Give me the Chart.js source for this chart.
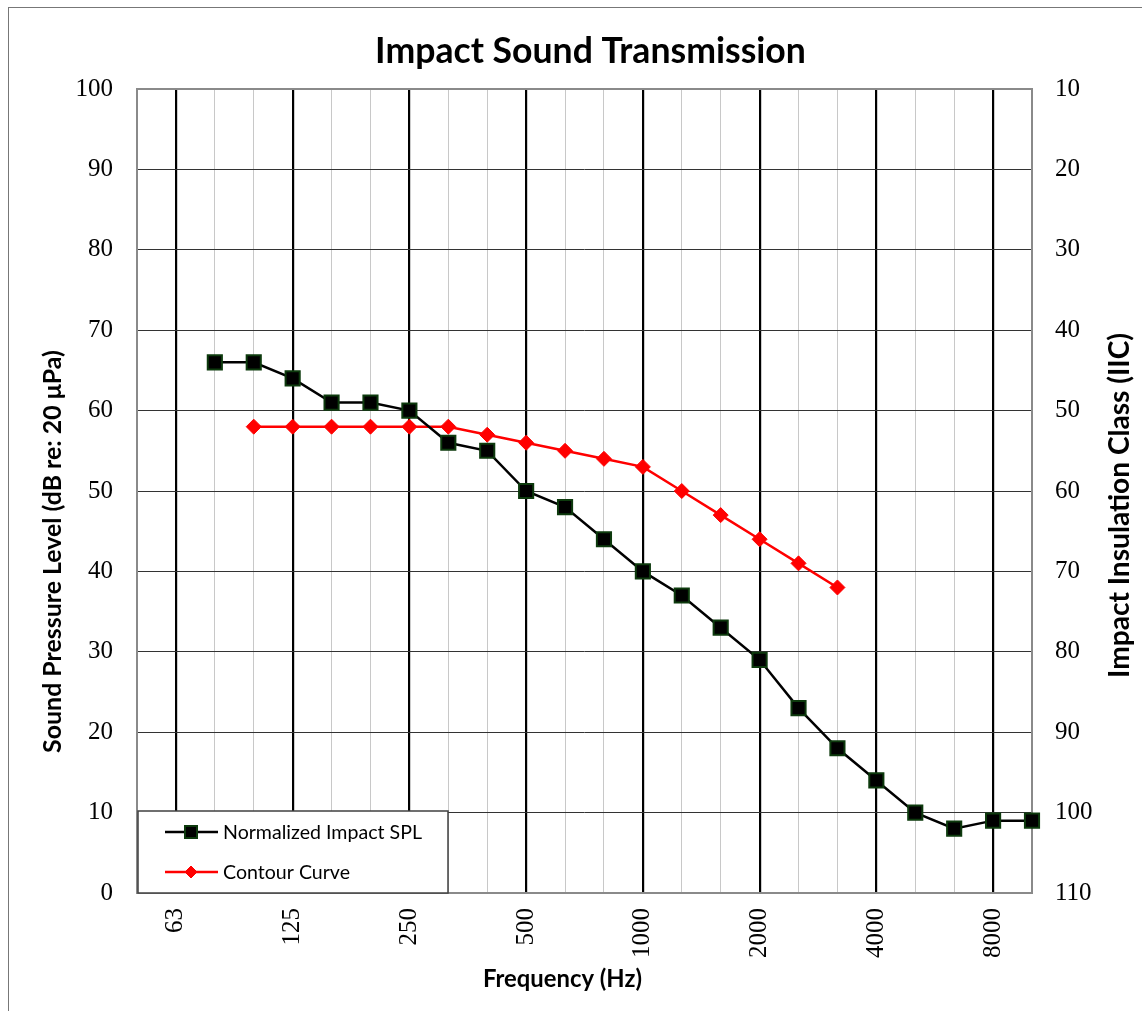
<!DOCTYPE html>
<html><head><meta charset="utf-8">
<script src="https://cdn.jsdelivr.net/npm/chart.js@4.4.1/dist/chart.umd.min.js"></script>
<style>
html,body{margin:0;padding:0;background:#fff;}
#wrap{position:relative;width:1142px;height:1011px;overflow:hidden;}
#frame{position:absolute;left:8px;top:7px;width:1200px;height:1100px;border-left:1.5px solid #777;border-top:1.5px solid #777;}
canvas{position:absolute;left:0;top:0;}
</style></head>
<body><div id="wrap"><div id="frame"></div><canvas id="c" width="1142" height="1011"></canvas></div>
<script>
const frequencies = ['50','63','80','100','125','160','200','250','315','400','500','630','800','1000','1250','1600','2000','2500','3150','4000','5000','6300','8000','10000'];
const majorLabels = ['63','125','250','500','1000','2000','4000','8000'];
const normalizedSPL = [null,null,66,66,64,61,61,60,56,55,50,48,44,40,37,33,29,23,18,14,10,8,9,9];
const contourCurve = [null,null,null,58,58,58,58,58,58,57,56,55,54,53,50,47,44,41,38,null,null,null,null,null];
const splTicks = [0,10,20,30,40,50,60,70,80,90,100];
const iicTicks = [10,20,30,40,50,60,70,80,90,100,110];
const chartTitle = 'Impact Sound Transmission';
const xTitle = 'Frequency (Hz)';
const yTitle = 'Sound Pressure Level (dB re: 20 μPa)';
const y2Title = 'Impact Insulation Class (IIC)';

function fitFont(ctx, text, weight, family, target) {
  ctx.font = weight + ' 20px ' + family;
  const w = ctx.measureText(text).width;
  return weight + ' ' + (20 * target / w).toFixed(2) + 'px ' + family;
}

const framePlugin = {
  id: 'frame',
  beforeDatasetsDraw(chart) {
    const {ctx, chartArea: a} = chart;
    ctx.save();
    ctx.strokeStyle = '#8a8a8a';
    ctx.lineWidth = 2;
    ctx.strokeRect(a.left, a.top, a.right - a.left, a.bottom - a.top);
    ctx.restore();
  }
};

const textPlugin = {
  id: 'texts',
  afterDraw(chart) {
    const ctx = chart.ctx;
    ctx.save();
    ctx.fillStyle = '#000';
    ctx.textAlign = 'center';
    ctx.textBaseline = 'alphabetic';
    ctx.font = fitFont(ctx, chartTitle, 'bold', 'Lato', 431);
    ctx.fillText(chartTitle, 590.5, 63);
    ctx.font = fitFont(ctx, xTitle, 'bold', 'Lato', 159);
    ctx.fillText(xTitle, 562.5, 987);
    ctx.save();
    ctx.translate(61, 551.5);
    ctx.rotate(-Math.PI / 2);
    ctx.font = fitFont(ctx, yTitle, 'bold', 'Lato', 403);
    ctx.fillText(yTitle, 0, 0);
    ctx.restore();
    ctx.save();
    ctx.translate(1129, 505.5);
    ctx.rotate(-Math.PI / 2);
    ctx.font = fitFont(ctx, y2Title, 'bold', 'Lato', 345);
    ctx.fillText(y2Title, 0, 0);
    ctx.restore();
    ctx.restore();
  }
};

const legendPlugin = {
  id: 'boxLegend',
  afterDraw(chart) {
    const ctx = chart.ctx;
    const a = chart.chartArea;
    const x0 = a.left + 1, y0 = a.bottom - 82, w = 310, h = 82;
    ctx.save();
    ctx.fillStyle = '#fff';
    ctx.fillRect(x0, y0, w, h);
    ctx.strokeStyle = '#404040';
    ctx.lineWidth = 1.5;
    ctx.strokeRect(x0, y0, w, h);
    const rows = [y0 + 21, y0 + 61];
    chart.data.datasets.forEach((ds, i) => {
      const y = rows[i];
      ctx.strokeStyle = ds.borderColor;
      ctx.lineWidth = ds.borderWidth;
      ctx.beginPath();
      ctx.moveTo(x0 + 27, y);
      ctx.lineTo(x0 + 80, y);
      ctx.stroke();
      ctx.fillStyle = ds.pointBackgroundColor;
      ctx.strokeStyle = ds.pointBorderColor;
      ctx.lineWidth = ds.pointBorderWidth;
      ctx.beginPath();
      if (ds.pointStyle === 'rect') {
        ctx.rect(x0 + 47, y - 6, 12, 12);
      } else {
        ctx.moveTo(x0 + 53, y - 6); ctx.lineTo(x0 + 59, y); ctx.lineTo(x0 + 53, y + 6); ctx.lineTo(x0 + 47, y);
        ctx.closePath();
      }
      ctx.fill(); ctx.stroke();
      ctx.fillStyle = '#000';
      ctx.textAlign = 'left';
      ctx.textBaseline = 'middle';
      ctx.font = fitFont(ctx, 'Normalized Impact SPL', 'normal', 'Lato', 199);
      ctx.fillText(ds.label, x0 + 85, y + 1);
    });
    ctx.restore();
  }
};

new Chart(document.getElementById('c'), {
  type: 'line',
  data: {
    labels: frequencies,
    datasets: [
      {label: 'Normalized Impact SPL', data: normalizedSPL, borderColor: '#000', borderWidth: 2.5,
       pointStyle: 'rect', pointRadius: 10, pointBackgroundColor: '#000', pointBorderColor: '#0d3a0d', pointBorderWidth: 2,
       tension: 0, yAxisID: 'y'},
      {label: 'Contour Curve', data: contourCurve, borderColor: '#ff0000', borderWidth: 2.5,
       pointStyle: 'rectRot', pointRadius: 7.5, pointBackgroundColor: '#ff0000', pointBorderColor: '#ff0000', pointBorderWidth: 1,
       tension: 0, yAxisID: 'y'}
    ]
  },
  options: {
    responsive: false,
    animation: false,
    layout: {padding: {top: 89, left: 0, right: 0, bottom: 0}},
    plugins: {legend: {display: false}, title: {display: false}, tooltip: {enabled: false}},
    scales: {
      x: {
        type: 'category', offset: false,
        grid: {
          drawTicks: false,
          color: (c) => majorLabels.includes(frequencies[c.index]) ? '#000' : '#c8c8c8',
          lineWidth: (c) => majorLabels.includes(frequencies[c.index]) ? 2.2 : 1
        },
        border: {display: false},
        ticks: {
          autoSkip: false, maxRotation: 90, minRotation: 90, padding: 15, color: '#000',
          font: {family: 'Liberation Serif', size: 25},
          callback: (v, i) => majorLabels.includes(frequencies[i]) ? frequencies[i] : ''
        },
        afterFit(s) { s.height = 118; }
      },
      y: {
        position: 'left', min: splTicks[0], max: splTicks[splTicks.length - 1],
        afterBuildTicks(s) { s.ticks = splTicks.map(v => ({value: v})); },
        ticks: {padding: 24, color: '#000', font: {family: 'Liberation Serif', size: 25}},
        grid: {color: '#333', lineWidth: 1, drawTicks: false},
        border: {display: false},
        afterFit(s) { s.width = 137; }
      },
      y2: {
        position: 'right', min: iicTicks[0], max: iicTicks[iicTicks.length - 1], reverse: true,
        afterBuildTicks(s) { s.ticks = iicTicks.map(v => ({value: v})); },
        ticks: {padding: 23, color: '#000', font: {family: 'Liberation Serif', size: 25}},
        grid: {display: false, drawTicks: false},
        border: {display: false},
        afterFit(s) { s.width = 110; }
      }
    }
  },
  plugins: [framePlugin, textPlugin, legendPlugin]
});
</script>
</body></html>
